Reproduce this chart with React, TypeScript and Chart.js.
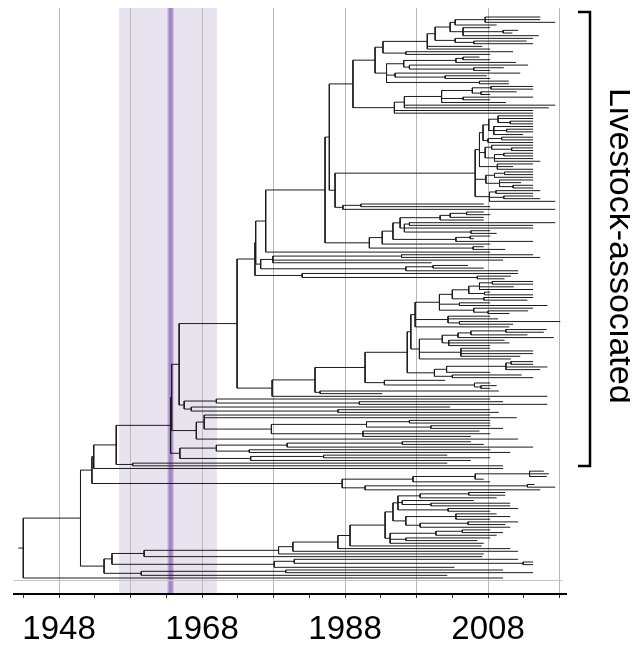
import { useEffect, useRef } from "react";
import { Chart, registerables } from "chart.js";
Chart.register(...registerables);

type TreeNode = number | TreeNode[]; // tip = sampling year; internal = [node year, ...children]

// ---- axis / annotation values ----
const xMin = 1941.7;
const xMax = 2018.9;
const xTickYears = [1943, 1948, 1953, 1958, 1963, 1968, 1973, 1978, 1983, 1988, 1993, 1998, 2003, 2008, 2013, 2018];
const labelYears = [1948, 1968, 1988, 2008];
const gridYears = [1948, 1958, 1968, 1978, 1988, 1998, 2008, 2018];
const hpdBand = [1956.4, 1970.1];
const tmrcaYear = 1963.6;
const rootStemStart = 1942.3;
const cladeLabel = "Livestock-associated";

// ---- tree (node dates and tip dates, in years) ----
const C1a1: TreeNode = [1993.3,
  [1999.5,
    [2000.6,
      [2002.7,
        [2003.4, [2007.6, 2015.3, 2015.3, 2017.4], 2009.2],
        [2004.5, 2008.3, [2010.1, 2012.2, 2011.4], 2015.1]],
      [2003.4, 2014.3, [2006, 2013.4, 2014.3]]],
    2007.2, 2008.3],
  [1996.5, 2011.5, 2008.3]];
const C1a2: TreeNode = [1993.8,
  [1996.2, [2003.5, [2004.5, 2006.8, 2008.3], 2011.9], [1997, 2013.6, [2006, 2010.2, 2008.3]]],
  [1995, 2012.5, [2002, 2007.8, 2008.3]],
  [2006.8, 2010.9, 2010.9]];
const C1b: TreeNode = [1994.9,
  [1996.3, [2001.5, [2005.8, [2008.4, 2014.3, 2014.3], [2007, 2012, 2008.3]], [2004.5, 2014.3, 2008.3], 2010.5], 2017.4, 2016.5],
  2014.3, 2014.3];
const C1: TreeNode = [1989.1, [1992.2, C1a1, C1a2], C1b];

const C2: TreeNode = [2006.2,
  [2006.8,
    [2007.3, [2008.1, [2009.4, 2014.3, 2014.3, [2011.1, 2014.3, 2014.3]], [2008.8, 2014.3, [2010.6, 2014.3, 2014.3], 2012.9]], [2008, [2009.9, 2014.3, 2014.3], 2014.3]],
    [2007.6, [2008.5, 2014.3, [2011.3, 2014.3, 2014.3]], [2008.9, [2010.2, 2014.3, 2014.3], 2014.3, 2015.3]],
    [2009.3, 2014.3, 2011.5, 2014.3]],
  [2007.7, [2008.9, [2010.3, 2014.3, 2014.3], 2014.3], [2009.6, 2014.3, 2012.6, [2011.5, 2014.3, 2014.3]]],
  [2008.2, [2009.1, 2015.3, 2014.3], [2010.2, 2014.3, 2015.3], 2017.4]];
const M: TreeNode = [1987.7, [1990.2, 2007.4, 2008.3], 2017.4];
const Plow: TreeNode = [1991.4,
  [1993.2,
    [1994.7,
      [1995.7,
        [2001.3, [2002.7, [2005, 2007.4, 2008.3], 2007.4], 2007.4],
        [1996.3, [1997, 2017.4, 2014.3], 2014.3, [2005.6, 2008.3, 2009.2]]],
      [2003.5, [2005.5, 2008.3, 2006], 2014.3]],
    2008.3],
  [2005.9, 2007.4, 2010.4]];
const P: TreeNode = [1985.2, [1985.8, C1, [1986.6, C2, M]], Plow];
const S262: TreeNode = [1976.2, [1977.9, [1995.9, 2014.3, 2015.3], 2010.1, 2000.1], [1996.5, [2000.3, 2005.2, 2007.4], 2012.2]];
const S302: TreeNode = [1982, 2012.2, [2006.5, 2011.2, 2010.3]];
const S247: TreeNode = [1975.4, [1975.5, [1976.9, P, 2008.3], S262], S302];

const sub1: TreeNode = [1997.8,
  [2001.2,
    [2003, [2005.3, [2006.8, [2008.6, 2014.3, 2014.3], 2011.6, 2014.3], [2007.5, 2008.3, 2014.3]], [2007.4, 2014.3, 2013.5]],
    [2004, 2008.3, 2016.3],
    [2006, 2014.3, [2008, 2013.6, 2011]]],
  [2002.4, 2008.3, 2009.4, [2004, 2018.1, 2011.5]],
  2011];
const sub2: TreeNode = [1998.4,
  [2001.6, [2003.8, [2005.6, [2010.5, 2016.2, 2015.8], 2013.5], 2017.2], [2002.5, 2010.3, 2011, 2008.3]],
  [2004.2, 2008.3, 2014.3, 2014.3, 2012.5],
  2011.2];
const sub3: TreeNode = [2000.5, [2002.2, [2010.5, [2011.2, 2014.3, 2014.3], 2016.3, 2015.3], 2008.3], [2003, 2012.7, 2014.3]];
const S365: TreeNode = [1990.8, [1996.7, [1997.2, sub1, sub2], sub3], [1993.5, 2002, [2006.1, 2008.3, [2007, 2009.2, 2008.3]]]];
const S272: TreeNode = [1977.8, [1983.8, S365, [1984.5, 2009.5, 1993.2]], 2016.3];

const E1b: TreeNode = [1965.5, [1970, 2008.3, [1990, 2010.1, 2016.3]], [1966.5, 2002.7, [1987, 2008.3, 2009.5]]];
const E2: TreeNode = [1967.2, [1968.3, 2008.3, 2012, [1977.7, [1991, [1997, 2008.3, 2008.3], [2000, 2008.3, 2010.1]], [1990.5, 2006.8, 2008.3, 2005.6]]], 2012.2];
const E3: TreeNode = [1964.9, [1970, [1979.9, [1996, 2005.6, 2007.4], 2014.3], [1974.6, 2008.3, 2011.1]], [1974.8, [1985, 2002.3, 2008.3], 2005.6]];
const E: TreeNode = [1963.6, [1963.75, [1964.8, [1972.9, S247, S272], E1b], E2], E3];

const Clow: TreeNode = [1987.6, [1997.5, [2006.2, [2013.8, 2015.8, 2016.5, 2016.2], 2007.4], 2008.3], [1990.8, [2013.5, 2014.5, 2017.4], 2015.3]];
const C: TreeNode = [1952.6, [1952.85, [1956.0, E, [1958.3, 2002.3, 2010.1]], 2010.1], Clow];

const LC: TreeNode = [1988.7,
  [1993.6,
    [1994.7,
      [1995.4, [1998.5, [2005.3, 2010.4, 2010.4], 2009.2], [1996, 2006, [2000, 2011.1, 2011.1]], [2002.4, 2012.2, 2008.3]],
      [1996.5, [2003.5, 2009.2, 2011.1, 2008.3], [1998.5, [2005.2, 2012.2, 2010.4], 2011.1]]],
    [1994.3, [2000.7, [2004.4, 2008.3, 2010.1], 2009.2], [1996.5, 2008.3, 2006.5], 2007.4]],
  2007.1];
const N144: TreeNode = [1959.9, [1978.7, [1980.7, [1987.0, LC, 2011.1], 2012.2], 2007.4], 2007.2];
const N274: TreeNode = [1978.1, [1980.9, 2012.2, [2012.9, 2014.3, 2014.3]], 2003.3];
const N141: TreeNode = [1959.5, [1979.7, 2010.1, 2014.3], 2002.3];
const B: TreeNode = [1951.0, C, [1954.3, [1955.4, N144, N274], N141]];
const treeRoot: TreeNode = [1943.0, B, 2010.1];

function layoutTree(root: TreeNode, stemStart: number) {
  const pts: { x: number; y: number | null }[] = [];
  let tip = 0;
  const walk = (node: TreeNode, parentX: number): number => {
    if (typeof node === "number") {
      const y = tip++;
      pts.push({ x: parentX, y }, { x: node, y }, { x: node, y: null });
      return y;
    }
    const [t, ...kids] = node as [number, ...TreeNode[]];
    const ys = kids.map((k) => walk(k, t));
    const y0 = ys[0];
    const y1 = ys[ys.length - 1];
    const y = (y0 + y1) / 2;
    pts.push({ x: t, y: y0 }, { x: t, y: y1 }, { x: t, y: null });
    pts.push({ x: parentX, y }, { x: t, y }, { x: t, y: null });
    return y;
  };
  walk(root, stemStart);
  return { pts, nTips: tip };
}

export default function App() {
  const ref = useRef<HTMLCanvasElement>(null);
  useEffect(() => {
    if (!ref.current) return;
    const { pts, nTips } = layoutTree(treeRoot, rootStemStart);
    const plotH = 586;
    const range = ((nTips - 1) * plotH) / 561;
    const yMin = (-9 * range) / plotH;
    const yMax = yMin + range;
    const font = '"Liberation Sans", Arial, Helvetica, sans-serif';

    const deco = {
      id: "deco",
      beforeDraw(chart: any) {
        const { ctx, chartArea } = chart;
        const xs = chart.scales.x;
        const a = xs.getPixelForValue(hpdBand[0]);
        const b = xs.getPixelForValue(hpdBand[1]);
        ctx.save();
        ctx.fillStyle = "#e8e3ef";
        ctx.fillRect(a, chartArea.top, b - a, chartArea.bottom - chartArea.top);
        const m = xs.getPixelForValue(tmrcaYear);
        ctx.fillStyle = "#b9a6d5";
        ctx.fillRect(m - 3, chartArea.top, 6, chartArea.bottom - chartArea.top);
        ctx.fillStyle = "#a185c8";
        ctx.fillRect(m - 1.5, chartArea.top, 3, chartArea.bottom - chartArea.top);
        ctx.restore();
      },
      beforeDatasetsDraw(chart: any) {
        const { ctx, chartArea } = chart;
        const xs = chart.scales.x;
        ctx.save();
        ctx.strokeStyle = "#c4c4c4";
        ctx.lineWidth = 1;
        ctx.beginPath();
        ctx.moveTo(chartArea.left, chartArea.bottom - 13.5);
        ctx.lineTo(xs.getPixelForValue(2018.3), chartArea.bottom - 13.5);
        ctx.stroke();
        ctx.restore();
      },
      afterDraw(chart: any) {
        const { ctx } = chart;
        ctx.save();
        ctx.strokeStyle = "#000";
        ctx.lineWidth = 2.5;
        ctx.beginPath();
        ctx.moveTo(570, 4);
        ctx.lineTo(582, 4);
        ctx.lineTo(582, 458);
        ctx.lineTo(570, 458);
        ctx.stroke();
        ctx.translate(602, 80);
        ctx.rotate(Math.PI / 2);
        ctx.fillStyle = "#000";
        ctx.font = `34px ${font}`;
        ctx.textAlign = "left";
        ctx.textBaseline = "alphabetic";
        ctx.fillText(cladeLabel, 0, 0);
        ctx.restore();
      },
    };

    const chart = new Chart(ref.current, {
      type: "line",
      data: {
        datasets: [
          {
            data: pts as any,
            borderColor: "#1c1c1c",
            borderWidth: 1,
            pointRadius: 0,
            spanGaps: false,
            tension: 0,
            borderCapStyle: "butt",
          },
        ],
      },
      options: {
        animation: false,
        responsive: false,
        devicePixelRatio: 1,
        events: [],
        layout: { padding: { left: 6, right: 72, top: 0, bottom: 0 } },
        plugins: { legend: { display: false }, tooltip: { enabled: false } },
        scales: {
          x: {
            type: "linear",
            min: xMin,
            max: xMax,
            afterBuildTicks: (scale: any) => {
              scale.ticks = xTickYears.map((v) => ({ value: v }));
            },
            afterFit: (scale: any) => {
              scale.height = 52;
            },
            grid: {
              color: (c: any) => (c.tick && gridYears.includes(c.tick.value) ? "#b8b8b8" : "rgba(0,0,0,0)"),
              tickColor: "#333",
              tickLength: 4,
              lineWidth: 1,
            },
            border: { display: true, color: "#000", width: 2 },
            ticks: {
              autoSkip: false,
              maxRotation: 0,
              minRotation: 0,
              padding: 12,
              color: "#000",
              font: { size: 33, family: font },
              callback: (v: any) => (labelYears.includes(Number(v)) ? String(v) : ""),
            },
          },
          y: {
            type: "linear",
            display: false,
            reverse: true,
            min: yMin,
            max: yMax,
          },
        },
      },
      plugins: [deco],
    } as any);
    return () => chart.destroy();
  }, []);

  return (
    <div style={{ width: 630, height: 638 }}>
      <canvas ref={ref} width={630} height={638} style={{ display: "block" }} />
    </div>
  );
}
